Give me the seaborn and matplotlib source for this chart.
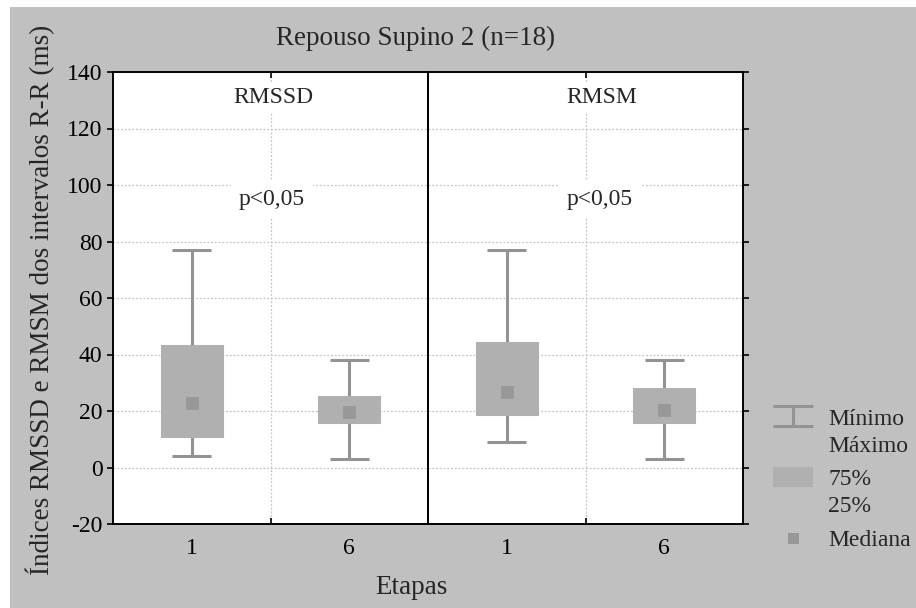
import numpy as np
import pandas as pd
import matplotlib
matplotlib.use("Agg")
import matplotlib.pyplot as plt
from matplotlib.lines import Line2D
from matplotlib.patches import Rectangle
from matplotlib.ticker import FixedLocator
import seaborn as sns

# ---------------- data ----------------
etapas = ["1", "6"]
indices = ["RMSSD", "RMSM"]

rmssd_min = [4, 3]
rmssd_q1 = [11, 16]
rmssd_med = [22.7, 19.8]
rmssd_q3 = [43, 25]
rmssd_max = [77, 38]

rmsm_min = [9, 3]
rmsm_q1 = [19, 16]
rmsm_med = [26.6, 20.2]
rmsm_q3 = [44, 27.8]
rmsm_max = [77, 38]

p_labels = ["p<0,05", "p<0,05"]
y_ticks = [-20, 0, 20, 40, 60, 80, 100, 120, 140]

title = "Repouso Supino 2 (n=18)"
ylabel = "Índices RMSSD e RMSM dos intervalos R-R (ms)"
xlabel = "Etapas"
legend_labels = ["Mínimo\nMáximo", "75%\n25%", "Mediana"]

# ---------------- build long-form table ----------------
stats = {
    "RMSSD": [rmssd_min, rmssd_q1, rmssd_med, rmssd_q3, rmssd_max],
    "RMSM": [rmsm_min, rmsm_q1, rmsm_med, rmsm_q3, rmsm_max],
}
rows = []
for ind in indices:
    for i, et in enumerate(etapas):
        for arr in stats[ind]:
            rows.append({"indice": ind, "etapa": et, "valor": arr[i]})
df = pd.DataFrame(rows)

# ---------------- style ----------------
sns.set_theme(style="white")
plt.rcParams["font.family"] = ["Liberation Serif", "DejaVu Serif"]
plt.rcParams["axes.linewidth"] = 1.4
plt.rcParams["axes.unicode_minus"] = False

BG = "#c0c0c0"
BOX = "#b0b0b0"
WHISK = "#939393"
MED = "#989898"
GRID = "#c4c4c4"

W, H = 916, 608
fig = plt.figure(figsize=(W / 100, H / 100), dpi=100, facecolor="white")


def fx(x):
    return x / W


def fy(y):
    return 1 - y / H


# gray background panel
fig.patches.append(Rectangle((fx(10), 0), 1 - fx(10), fy(7), transform=fig.transFigure,
                             facecolor=BG, edgecolor="none", zorder=-10))

axes = fig.subplots(1, 2, sharey=True)
fig.subplots_adjust(left=fx(113), right=fx(743), bottom=fy(524), top=fy(72), wspace=0)

text_x = [0.52, 0.60]

for k, (ax, ind) in enumerate(zip(axes, indices)):
    sub = df[df["indice"] == ind]
    sns.boxplot(data=sub, x="etapa", y="valor", order=etapas, ax=ax,
                whis=(0, 100), width=0.38, color=BOX, linecolor=WHISK, linewidth=2.2,
                saturation=1, fliersize=0, medianprops={"linewidth": 0},
                capwidths=0.25)
    for p in ax.patches:
        p.set_edgecolor(BOX)
        p.set_facecolor(BOX)
        p.set_zorder(3)
    for ln in ax.lines:
        ln.set_solid_capstyle("butt")
    sns.pointplot(data=sub, x="etapa", y="valor", order=etapas, ax=ax,
                  estimator=np.median, errorbar=None, linestyle="none",
                  marker="s", markersize=7, color=MED)
    for ln in ax.lines[-3:]:
        ln.set_zorder(5)

    ax.set_facecolor("white")
    ax.set_xlim(-0.5, 1.5)
    ax.set_ylim(-20, 140)
    ax.set_yticks(y_ticks)
    ax.set_xlabel("")
    ax.set_ylabel("")
    for s in ax.spines.values():
        s.set_visible(True)
        s.set_color("black")
        s.set_linewidth(1.4)

    # grid
    ax.xaxis.set_minor_locator(FixedLocator([0.5]))
    ax.grid(True, axis="y", which="major", linestyle=(0, (1.5, 1.5)), color=GRID, linewidth=0.9)
    ax.grid(True, axis="x", which="minor", linestyle=(0, (1.5, 1.5)), color=GRID, linewidth=0.9)
    ax.grid(False, axis="x", which="major")
    ax.set_axisbelow(True)

    ax.tick_params(axis="x", which="major", length=0, pad=10, labelsize=17, colors="black")
    ax.tick_params(axis="x", which="minor", length=4, direction="in", top=True, bottom=True,
                   color="black", width=1.2)
    if k == 0:
        ax.tick_params(axis="y", which="major", left=True, right=False, length=4, width=1.2,
                       direction="out", pad=3.5, labelsize=17, colors="black")
    else:
        ax.tick_params(axis="y", which="major", left=False, right=True, labelleft=False,
                       length=4, width=1.2, direction="out", labelsize=17, colors="black")

    ax.text(text_x[k], 131, ind, ha="center", va="center", fontsize=17, zorder=6,
            bbox=dict(facecolor="white", edgecolor="none", pad=3))
    ax.text(text_x[k] - 0.01, 95, p_labels[k], ha="center", va="center", fontsize=17, zorder=6,
            bbox=dict(facecolor="white", edgecolor="none", pad=6))

# titles / labels
fig.text(fx(416), fy(38), title, ha="center", va="center", fontsize=19.5)
fig.text(fx(411), fy(588), xlabel, ha="center", va="center", fontsize=19.5)
fig.text(fx(40), fy(300), ylabel, ha="center", va="center", rotation=90, fontsize=19.5)

# ---------------- legend (drawn in figure coords) ----------------
lw = 2.2
fig.add_artist(Line2D([fx(773), fx(813)], [fy(406), fy(406)], color=WHISK, lw=lw,
                      transform=fig.transFigure, solid_capstyle="butt"))
fig.add_artist(Line2D([fx(773), fx(813)], [fy(426), fy(426)], color=WHISK, lw=lw,
                      transform=fig.transFigure, solid_capstyle="butt"))
fig.add_artist(Line2D([fx(793), fx(793)], [fy(406), fy(426)], color=WHISK, lw=lw,
                      transform=fig.transFigure, solid_capstyle="butt"))
fig.add_artist(Rectangle((fx(773), fy(487)), fx(813) - fx(773), fy(467) - fy(487),
                         transform=fig.transFigure, facecolor=BOX, edgecolor="none"))
fig.add_artist(Rectangle((fx(788), fy(544)), fx(799) - fx(788), fy(533) - fy(544),
                         transform=fig.transFigure, facecolor=MED, edgecolor="none"))

fig.text(fx(828), fy(433), legend_labels[0], ha="left", va="center", fontsize=17, linespacing=1.35)
fig.text(fx(828), fy(493), legend_labels[1], ha="left", va="center", fontsize=17, linespacing=1.35)
fig.text(fx(828), fy(540), legend_labels[2], ha="left", va="center", fontsize=17)

fig.savefig("out.png", dpi=100, facecolor=fig.get_facecolor())
